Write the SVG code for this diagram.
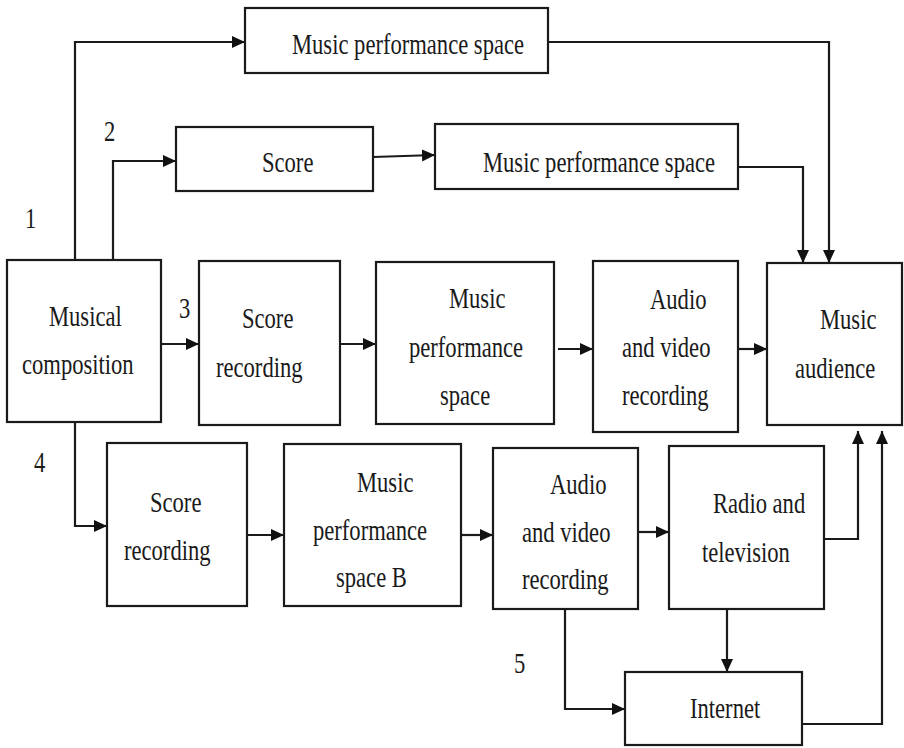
<svg xmlns="http://www.w3.org/2000/svg" width="904" height="748" viewBox="0 0 904 748">
<defs>
<marker id="ah" markerUnits="userSpaceOnUse" markerWidth="14" markerHeight="14" refX="13" refY="7" orient="auto">
<path d="M0,1 L13,7 L0,13 Z" fill="#111"/>
</marker>
<style>
.box{fill:#fff;stroke:#1a1a1a;stroke-width:2.2}
.t{font-family:"Liberation Serif","Times New Roman",serif;font-size:22.6px;fill:#1a1a1a}
.c{fill:none;stroke:#1a1a1a;stroke-width:2.2;marker-end:url(#ah)}
</style>
</defs>
<rect width="904" height="748" fill="#fff"/>
<g id="connectors">
<path class="c" d="M75,260 V42 H245"/>
<path class="c" d="M113,260 V161 H176"/>
<path class="c" d="M373,157 L435,155"/>
<path class="c" d="M738,167 H803 V263"/>
<path class="c" d="M548,42 H829 V263"/>
<path class="c" d="M161,344 H199"/>
<path class="c" d="M340,344 H376"/>
<path class="c" d="M558,349 H593"/>
<path class="c" d="M738,349 H767"/>
<path class="c" d="M75,422 V526 H107"/>
<path class="c" d="M247,535 H284"/>
<path class="c" d="M461,535 H493"/>
<path class="c" d="M638,532 H669"/>
<path class="c" d="M824,539 H858 V431"/>
<path class="c" d="M802,724 H882 V431"/>
<path class="c" d="M727,609 V672"/>
<path class="c" d="M565,609 V709 H625"/>
</g>
<g id="labels">
<text class="t" transform="translate(25,228) scale(1,1.28)">1</text>
<text class="t" transform="translate(104,141) scale(1,1.28)">2</text>
<text class="t" transform="translate(179,318) scale(1,1.28)">3</text>
<text class="t" transform="translate(34,472) scale(1,1.28)">4</text>
<text class="t" transform="translate(514,673) scale(1,1.28)">5</text>
</g>
<g id="mps1"><rect class="box" x="245" y="8" width="303" height="65"/>
<text class="t" transform="translate(292,54) scale(1,1.28)">Music performance space</text></g>
<g id="score"><rect class="box" x="176" y="127" width="197" height="64"/>
<text class="t" transform="translate(262,172) scale(1,1.28)">Score</text></g>
<g id="mps2"><rect class="box" x="435" y="124" width="303" height="65"/>
<text class="t" transform="translate(483,172) scale(1,1.28)">Music performance space</text></g>
<g id="composition"><rect class="box" x="7" y="260" width="154" height="162"/>
<text class="t" transform="translate(49,326) scale(1,1.28)">Musical</text>
<text class="t" transform="translate(22,374) scale(1,1.28)">composition</text></g>
<g id="scorerec1"><rect class="box" x="199" y="261" width="141" height="164"/>
<text class="t" transform="translate(242,328) scale(1,1.28)">Score</text>
<text class="t" transform="translate(216,377) scale(1,1.28)">recording</text></g>
<g id="mps3"><rect class="box" x="376" y="262" width="178" height="162"/>
<text class="t" transform="translate(449,308) scale(1,1.28)">Music</text>
<text class="t" transform="translate(409,357) scale(1,1.28)">performance</text>
<text class="t" transform="translate(440,405) scale(1,1.28)">space</text></g>
<g id="av1"><rect class="box" x="593" y="261" width="145" height="171"/>
<text class="t" transform="translate(650,309) scale(1,1.28)">Audio</text>
<text class="t" transform="translate(622,357) scale(1,1.28)">and video</text>
<text class="t" transform="translate(622,405) scale(1,1.28)">recording</text></g>
<g id="audience"><rect class="box" x="767" y="263" width="135" height="162"/>
<text class="t" transform="translate(820,329) scale(1,1.28)">Music</text>
<text class="t" transform="translate(795,378) scale(1,1.28)">audience</text></g>
<g id="scorerec2"><rect class="box" x="107" y="443" width="140" height="163"/>
<text class="t" transform="translate(150,512) scale(1,1.28)">Score</text>
<text class="t" transform="translate(124,560) scale(1,1.28)">recording</text></g>
<g id="mpsb"><rect class="box" x="284" y="444" width="177" height="162"/>
<text class="t" transform="translate(357,492) scale(1,1.28)">Music</text>
<text class="t" transform="translate(313,540) scale(1,1.28)">performance</text>
<text class="t" transform="translate(336,587) scale(1,1.28)">space B</text></g>
<g id="av2"><rect class="box" x="493" y="448" width="145" height="161"/>
<text class="t" transform="translate(550,494) scale(1,1.28)">Audio</text>
<text class="t" transform="translate(522,542) scale(1,1.28)">and video</text>
<text class="t" transform="translate(522,589) scale(1,1.28)">recording</text></g>
<g id="radiotv"><rect class="box" x="669" y="446" width="155" height="163"/>
<text class="t" transform="translate(713,513) scale(1,1.28)">Radio and</text>
<text class="t" transform="translate(702,562) scale(1,1.28)">television</text></g>
<g id="internet"><rect class="box" x="625" y="672" width="177" height="73"/>
<text class="t" transform="translate(690,718) scale(1,1.28)">Internet</text></g>
</svg>
